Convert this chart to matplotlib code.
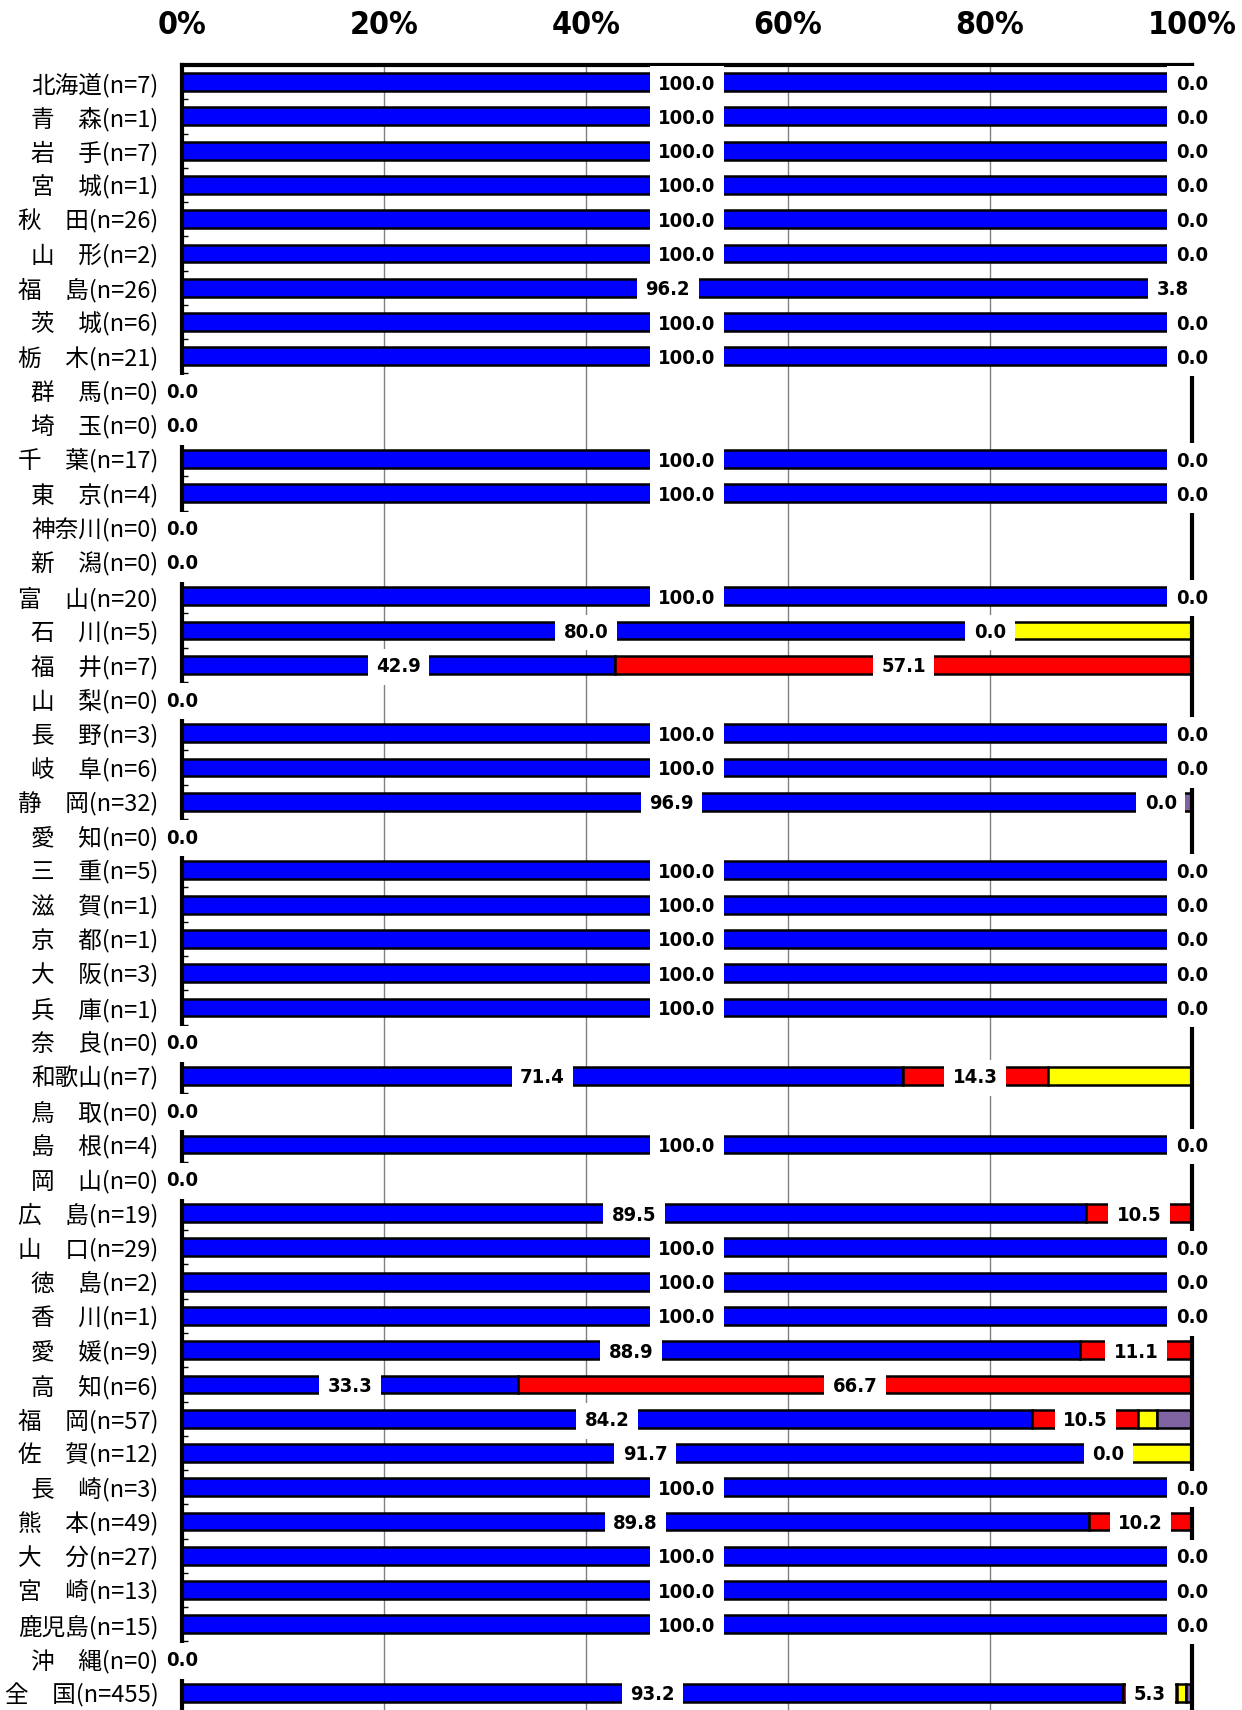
import matplotlib
matplotlib.use('Agg')
import matplotlib.pyplot as plt
import numpy as np

prefectures = ['北海道', '青　森', '岩　手', '宮　城', '秋　田', '山　形', '福　島', '茨　城',
               '栃　木', '群　馬', '埼　玉', '千　葉', '東　京', '神奈川', '新　潟', '富　山',
               '石　川', '福　井', '山　梨', '長　野', '岐　阜', '静　岡', '愛　知', '三　重',
               '滋　賀', '京　都', '大　阪', '兵　庫', '奈　良', '和歌山', '鳥　取', '島　根',
               '岡　山', '広　島', '山　口', '徳　島', '香　川', '愛　媛', '高　知', '福　岡',
               '佐　賀', '長　崎', '熊　本', '大　分', '宮　崎', '鹿児島', '沖　縄', '全　国']
counts = [7, 1, 7, 1, 26, 2, 26, 6, 21, 0, 0, 17, 4, 0, 0, 20,
          5, 7, 0, 3, 6, 32, 0, 5, 1, 1, 3, 1, 0, 7, 0, 4,
          0, 19, 29, 2, 1, 9, 6, 57, 12, 3, 49, 27, 13, 15, 0, 455]
share_blue = [100.0, 100.0, 100.0, 100.0, 100.0, 100.0, 96.2, 100.0, 100.0, 0.0, 0.0, 100.0, 100.0, 0.0, 0.0, 100.0,
              80.0, 42.9, 0.0, 100.0, 100.0, 96.9, 0.0, 100.0, 100.0, 100.0, 100.0, 100.0, 0.0, 71.4, 0.0, 100.0,
              0.0, 89.5, 100.0, 100.0, 100.0, 88.9, 33.3, 84.2, 91.7, 100.0, 89.8, 100.0, 100.0, 100.0, 0.0, 93.2]
share_red = [0.0, 0.0, 0.0, 0.0, 0.0, 0.0, 3.8, 0.0, 0.0, 0.0, 0.0, 0.0, 0.0, 0.0, 0.0, 0.0,
             0.0, 57.1, 0.0, 0.0, 0.0, 0.0, 0.0, 0.0, 0.0, 0.0, 0.0, 0.0, 0.0, 14.3, 0.0, 0.0,
             0.0, 10.5, 0.0, 0.0, 0.0, 11.1, 66.7, 10.5, 0.0, 0.0, 10.2, 0.0, 0.0, 0.0, 0.0, 5.3]
share_yellow = [0.0, 0.0, 0.0, 0.0, 0.0, 0.0, 0.0, 0.0, 0.0, 0.0, 0.0, 0.0, 0.0, 0.0, 0.0, 0.0,
                20.0, 0.0, 0.0, 0.0, 0.0, 0.0, 0.0, 0.0, 0.0, 0.0, 0.0, 0.0, 0.0, 14.3, 0.0, 0.0,
                0.0, 0.0, 0.0, 0.0, 0.0, 0.0, 0.0, 1.8, 8.3, 0.0, 0.0, 0.0, 0.0, 0.0, 0.0, 0.9]
share_purple = [0.0, 0.0, 0.0, 0.0, 0.0, 0.0, 0.0, 0.0, 0.0, 0.0, 0.0, 0.0, 0.0, 0.0, 0.0, 0.0,
                0.0, 0.0, 0.0, 0.0, 0.0, 3.1, 0.0, 0.0, 0.0, 0.0, 0.0, 0.0, 0.0, 0.0, 0.0, 0.0,
                0.0, 0.0, 0.0, 0.0, 0.0, 0.0, 0.0, 3.5, 0.0, 0.0, 0.0, 0.0, 0.0, 0.0, 0.0, 0.7]
x_ticks = [0, 20, 40, 60, 80, 100]
x_tick_labels = ['0%', '20%', '40%', '60%', '80%', '100%']

NUM_FONT = ['DejaVu Sans']
JP_FONT = ['Noto Sans CJK JP', 'DejaVu Sans']


def add_label(ax, x, y, value):
  ax.text(x, y, f'{value:.1f}', ha='center', va='center_baseline', fontsize=14.5, fontweight='bold',
          fontstretch='condensed', family=NUM_FONT, zorder=6,
          bbox=dict(boxstyle='square,pad=0.42', facecolor='white', edgecolor='none'))


def main():
  fig = plt.figure(figsize=(12.42, 17.10), dpi=100)
  ax = fig.add_axes([182 / 1242, 0.0, 1010 / 1242, 1645 / 1710])

  y = np.arange(len(prefectures))
  blue = np.array(share_blue)
  red = np.array(share_red)
  yellow = np.array(share_yellow)
  purple = np.array(share_purple)

  bar_kw = dict(height=0.52, edgecolor='black', linewidth=1.8, zorder=2)
  ax.barh(y, blue, color='#0000FF', **bar_kw)
  ax.barh(y, red, left=blue, color='#FF0000', **bar_kw)
  ax.barh(y, yellow, left=blue + red, color='#FFFF00', **bar_kw)
  ax.barh(y, purple, left=blue + red + yellow, color='#8064A2', **bar_kw)

  for i, n in enumerate(counts):
    add_label(ax, blue[i] / 2, y[i], blue[i])
    if n > 0:
      add_label(ax, blue[i] + red[i] / 2, y[i], red[i])

  ax.set_xlim(0, 100)
  ax.set_ylim(len(prefectures) - 0.5, -0.5)

  ax.xaxis.tick_top()
  ax.set_xticks(x_ticks)
  ax.set_xticklabels(x_tick_labels, fontsize=23, fontweight='bold', fontstretch='condensed',
                     family=NUM_FONT)
  ax.tick_params(axis='x', length=0, pad=17)

  ax.set_yticks(y)
  ax.set_yticklabels([f'{p}(n={n})' for p, n in zip(prefectures, counts)],
                     fontsize=17, family=JP_FONT)
  ax.set_yticks(y[:-1] + 0.5, minor=True)
  ax.tick_params(axis='y', which='major', length=0, pad=17)
  ax.tick_params(axis='y', which='minor', direction='in', length=4, width=1)

  ax.grid(axis='x', color='#808080', linewidth=1)
  ax.set_axisbelow(True)

  for side in ['top', 'left', 'right']:
    ax.spines[side].set_linewidth(3)
  ax.spines['bottom'].set_visible(False)

  fig.savefig('out.png', dpi=100)


if __name__ == '__main__':
  main()
